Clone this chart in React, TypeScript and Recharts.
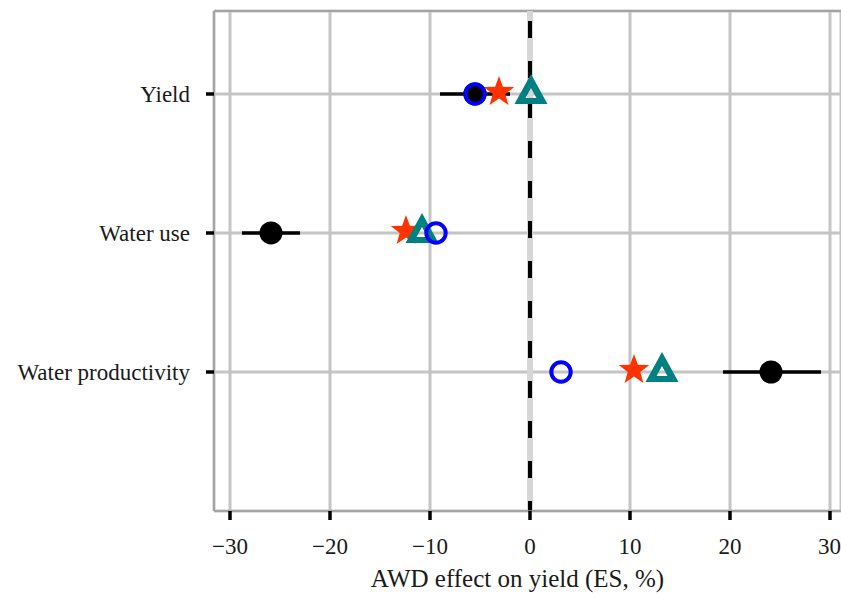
import { ScatterChart, Scatter, XAxis, YAxis, CartesianGrid, ReferenceLine, ErrorBar } from "recharts";

const categories = ["Yield", "Water use", "Water productivity"];
const meanEffect = [-5.5, -25.9, 24.1];
const meanLow = [-9.0, -28.8, 19.3];
const meanHigh = [-2.0, -23.0, 29.1];
const circleEffect = [-5.5, -9.4, 3.1];
const starEffect = [-3.1, -12.4, 10.4];
const triangleEffect = [0.1, -10.8, 13.2];
const xTicks = [-30, -20, -10, 0, 10, 20, 30];
const rowTicks = [1, 2, 3];

const FONT = "'Liberation Serif', serif";

const meanData = categories.map((c, i) => ({
  name: c,
  x: meanEffect[i],
  y: i + 1,
  err: [meanEffect[i] - meanLow[i], meanHigh[i] - meanEffect[i]],
}));
const circleData = categories.map((c, i) => ({ name: c, x: circleEffect[i], y: i + 1 }));
const starData = categories.map((c, i) => ({ name: c, x: starEffect[i], y: i + 1 }));
const triangleData = categories.map((c, i) => ({ name: c, x: triangleEffect[i], y: i + 1 }));

const fmt = (v: number) => (v < 0 ? `\u2212${-v}` : `${v}`);

function Dot(props: any) {
  return <circle cx={props.cx} cy={props.cy} r={11.5} fill="#000" />;
}

function Ring(props: any) {
  return <circle cx={props.cx} cy={props.cy} r={9.7} fill="none" stroke="#0000ff" strokeWidth={4} />;
}

function Star(props: any) {
  const { cx, cy } = props;
  const R = 16;
  const r = 6.6;
  const pts: string[] = [];
  for (let k = 0; k < 10; k++) {
    const rad = k % 2 === 0 ? R : r;
    const a = -Math.PI / 2 + (k * Math.PI) / 5;
    pts.push(`${cx + rad * Math.cos(a)},${cy - 2 + rad * Math.sin(a)}`);
  }
  return <polygon points={pts.join(" ")} fill="#ff3300" />;
}

function Triangle(props: any) {
  const { cx, cy } = props;
  const d =
    `M${cx},${cy - 20} L${cx + 16.5},${cy + 10} L${cx - 16.5},${cy + 10} Z ` +
    `M${cx},${cy - 6} L${cx - 5.5},${cy + 4} L${cx + 5.5},${cy + 4} Z`;
  return <path d={d} fill="#008080" fillRule="evenodd" />;
}

export default function App() {
  return (
    <div style={{ position: "absolute", left: 0, top: 0, width: 841, height: 597, overflow: "hidden", background: "#fff" }}>
      <ScatterChart width={841} height={597} margin={{ top: 11, right: 0, bottom: 0, left: 0 }}>
        <CartesianGrid stroke="#c4c4c4" strokeWidth={3} />
        <XAxis
          type="number"
          dataKey="x"
          domain={[-31.6, 31.1]}
          allowDataOverflow
          ticks={xTicks}
          tickFormatter={fmt}
          height={86}
          tickSize={9}
          tickMargin={18}
          axisLine={{ stroke: "#9a9a9a", strokeWidth: 1.5 }}
          tickLine={{ stroke: "#000", strokeWidth: 3.5 }}
          tick={{ fill: "#1a1a1a", fontSize: 23, fontFamily: FONT }}
          label={{
            content: ({ viewBox }: any) => (
              <text
                x={viewBox.x + viewBox.width / 2 - 10}
                y={viewBox.y + 76}
                textAnchor="middle"
                fill="#1a1a1a"
                fontSize={25}
                fontFamily={FONT}
              >
                AWD effect on yield (ES, %)
              </text>
            ),
          }}
        />
        <YAxis
          type="number"
          dataKey="y"
          domain={[0.403, 4.0]}
          reversed
          allowDataOverflow
          ticks={rowTicks}
          tickFormatter={(v: number) => categories[v - 1] ?? ""}
          width={214}
          tickSize={8}
          tickMargin={16}
          axisLine={{ stroke: "#9a9a9a", strokeWidth: 1.5 }}
          tickLine={{ stroke: "#000", strokeWidth: 3.5 }}
          tick={{ fill: "#1a1a1a", fontSize: 23, fontFamily: FONT }}
        />
        <ReferenceLine y={0.403} stroke="#9a9a9a" strokeWidth={1.5} />
        <ReferenceLine x={0} stroke="#d6d6d6" strokeWidth={6} />
        <ReferenceLine x={0} stroke="#000" strokeWidth={4} strokeDasharray="10 23 7 0" />
        <Scatter data={meanData} shape={Dot} isAnimationActive={false}>
          <ErrorBar dataKey="err" direction="x" width={0} stroke="#000" strokeWidth={3.5} />
        </Scatter>
        <Scatter data={starData} shape={Star} isAnimationActive={false} />
        <Scatter data={triangleData} shape={Triangle} isAnimationActive={false} />
        <Scatter data={circleData} shape={Ring} isAnimationActive={false} />
      </ScatterChart>
    </div>
  );
}
